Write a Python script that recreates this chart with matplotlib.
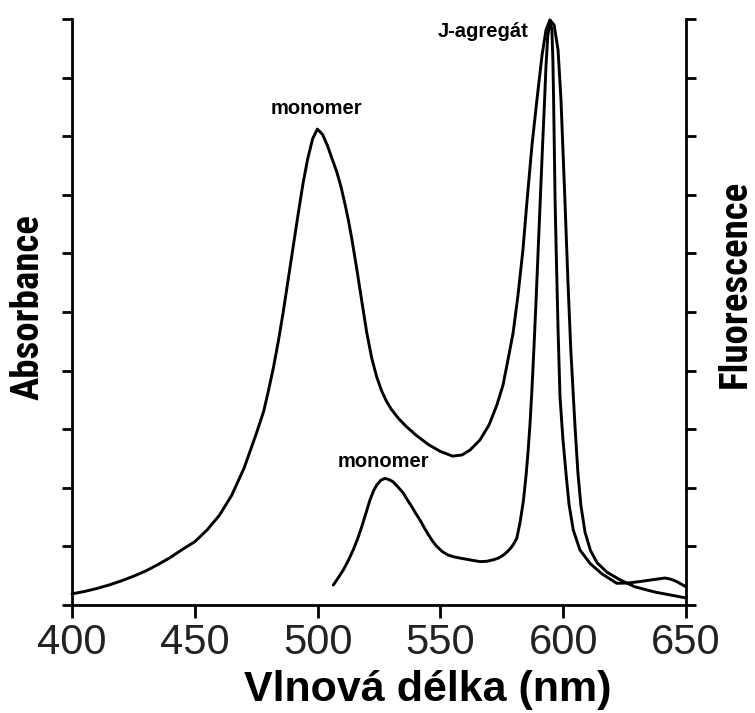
import matplotlib
matplotlib.use("Agg")
import matplotlib.pyplot as plt
import matplotlib.font_manager as fm

# ---------------- data ----------------
abs_wl = [400, 405, 410, 415, 420, 425, 430, 435, 440, 445, 450, 455, 460,
          465, 470, 475, 478, 480, 482, 484, 486, 488, 490, 492, 494, 496,
          498, 499.9, 502, 504, 505.5, 507.8, 509.5, 511.2, 512.6, 514, 516,
          518, 520, 522, 524, 526, 528, 530, 533, 536, 540, 545, 550, 555,
          558.8, 562.1, 566.1, 569.8, 573.0, 575.5, 577.5, 579.6, 581.6, 583.6,
          585.3, 587.3, 589.3, 591.4, 593.0, 594.6, 596.3, 597.9, 599.1, 600.7,
          601.9, 603.1, 604.8, 606.0, 607.2, 608.9, 611.1, 613.8, 617.8, 623.1,
          629.2, 637.4, 650.0]
abs_val = [0.19, 0.23, 0.28, 0.34, 0.41, 0.49, 0.58, 0.69, 0.81, 0.95, 1.08,
           1.28, 1.53, 1.87, 2.33, 2.92, 3.30, 3.66, 4.05, 4.50, 5.00, 5.55,
           6.10, 6.65, 7.18, 7.62, 7.96, 8.12, 8.03, 7.84, 7.66, 7.39, 7.14,
           6.83, 6.55, 6.23, 5.72, 5.18, 4.65, 4.22, 3.90, 3.66, 3.48, 3.34,
           3.18, 3.05, 2.90, 2.74, 2.62, 2.54, 2.56, 2.645, 2.816, 3.072, 3.413,
           3.754, 4.181, 4.642, 5.290, 6.058, 6.911, 7.850, 8.618, 9.386, 9.812,
           9.983, 9.898, 9.471, 8.618, 6.911, 5.550, 4.350, 3.050, 2.250, 1.700,
           1.240, 0.930, 0.720, 0.560, 0.430, 0.310, 0.220, 0.120]

fl_wl = [506.4, 508.5, 510.5, 512.5, 514.5, 516.3, 518.0, 519.7, 521.3, 522.8,
         524.1, 525.8, 527.4, 529.1, 530.8, 532.8, 534.9, 536.6, 538.3, 540.0,
         541.7, 543.4, 545.1, 546.8, 548.5, 550.8, 553.2, 555.6, 558.0, 562.0,
         566.1, 568.8, 571.5, 573.6, 575.6, 577.3, 579.0, 580.1, 581.1, 582.4,
         583.8, 584.9, 585.7, 586.5, 587.3, 588.1, 588.9, 589.7, 590.6, 591.4,
         592.3, 593.0, 593.7, 594.6, 595.4, 595.8, 596.1, 596.4, 596.7, 597.2,
         597.9, 598.7, 599.9, 601.4, 602.4, 604.1, 606.8, 610.9, 615.8, 621.8,
         626.4, 631.3, 636.2, 641.5, 643.8, 646.2, 650.0]
fl_val = [0.34, 0.47, 0.60, 0.76, 0.94, 1.13, 1.34, 1.57, 1.79, 1.95, 2.05,
          2.13, 2.16, 2.14, 2.10, 2.01, 1.91, 1.79, 1.68, 1.56, 1.45, 1.32,
          1.20, 1.09, 1.00, 0.91, 0.85, 0.82, 0.80, 0.77, 0.74, 0.745, 0.77,
          0.80, 0.85, 0.91, 0.99, 1.06, 1.14, 1.40, 1.78, 2.22, 2.62, 3.10,
          3.70, 4.40, 5.15, 5.95, 6.85, 7.65, 8.50, 9.20, 9.70, 9.98, 9.81,
          9.30, 8.60, 7.75, 6.90, 5.95, 4.70, 3.55, 2.82, 2.13, 1.71, 1.28,
          0.94, 0.71, 0.53, 0.37, 0.375, 0.40, 0.43, 0.46, 0.44, 0.40, 0.31]

x_ticks = [400, 450, 500, 550, 600, 650]
y_ticks = list(range(0, 11))

x_label = "Vlnová délka (nm)"
y_left_label = "Absorbance"
y_right_label = "Fluorescence"
annotations = [("monomer", 499.5, 8.48), ("J-agregát", 585.8, 9.78),
               ("monomer", 526.8, 2.44)]

# ---------------- fonts ----------------
def find_condensed_bold():
    best = None
    for f in fm.fontManager.ttflist:
        name = f.name
        st = str(f.stretch)
        cond = ('Narrow' in name or 'Condensed' in name or
                st in ('condensed', 'semi-condensed', 'extra-condensed'))
        w = f.weight
        try:
            w = int(w)
        except Exception:
            w = 700 if str(w).lower() in ('bold', 'heavy', 'black', 'demibold') else 400
        if cond and w >= 600:
            score = 0
            if 'Liberation' in name or 'Arial' in name:
                score = 3
            elif 'Roboto' in name:
                score = 2
            elif 'DejaVu' in name:
                score = 1
            if best is None or score > best[0]:
                best = (score, f.fname)
    return best[1] if best else None

cond_file = find_condensed_bold()
if cond_file:
    cond_prop = fm.FontProperties(fname=cond_file, size=28)
else:
    cond_prop = fm.FontProperties(family=['Liberation Sans', 'DejaVu Sans'],
                                  weight='bold', size=26)

plt.rcParams['font.family'] = ['Liberation Sans', 'DejaVu Sans']

# ---------------- figure ----------------
fig = plt.figure(figsize=(7.55, 7.13), dpi=100)
ax = fig.add_axes([0.0954, 0.1515, 0.8132, 0.8219])
ax2 = ax.twinx()

ax.plot(abs_wl, abs_val, color='black', lw=2.1, solid_joinstyle='round',
        solid_capstyle='round', clip_on=False)
ax2.plot(fl_wl, fl_val, color='black', lw=2.1, solid_joinstyle='round',
         solid_capstyle='round', clip_on=False)

for a in (ax, ax2):
    a.set_xlim(400, 650)
    a.set_ylim(0, 10)
    a.spines['top'].set_visible(False)
    for s in a.spines.values():
        s.set_linewidth(2.0)
ax.spines['right'].set_visible(False)
ax2.spines['left'].set_visible(False)
ax2.spines['bottom'].set_visible(False)

ax.set_xticks(x_ticks)
ax.set_xticklabels([str(t) for t in x_ticks])
ax.set_yticks(y_ticks)
ax.set_yticklabels([])
ax2.set_yticks(y_ticks)
ax2.set_yticklabels([])

ax.tick_params(axis='x', direction='out', length=9, width=2.0,
               labelsize=30, labelcolor='#222222', pad=4)
ax.tick_params(axis='y', direction='out', length=7, width=2.0)
ax2.tick_params(axis='y', direction='out', length=7, width=2.0)

fig.text(428 / 755, 1 - 690 / 713, x_label, ha='center', va='center',
         fontsize=31, fontweight='bold')

fig.text(28 / 755, 1 - 307 / 713, y_left_label, rotation=90,
         ha='center', va='center', fontproperties=cond_prop)
fig.text(735 / 755, 1 - 284 / 713, y_right_label, rotation=90,
         ha='center', va='center', fontproperties=cond_prop)

for txt, xv, yv in annotations:
    ha = 'right' if txt.startswith('J') else 'center'
    ax.text(xv, yv, txt, ha=ha, va='center', fontsize=14.5,
            fontweight='bold')

fig.savefig("out.png", dpi=100)
